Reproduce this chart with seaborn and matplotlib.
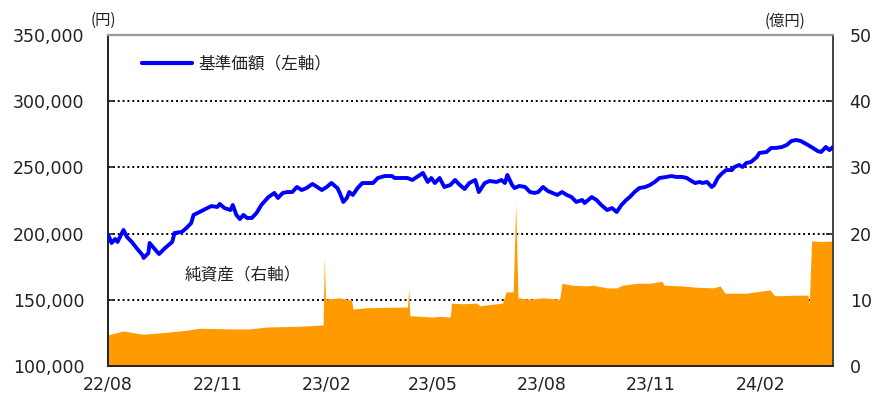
import numpy as np
import pandas as pd
import matplotlib
matplotlib.use("Agg")
import matplotlib.pyplot as plt
import matplotlib.dates as mdates
from matplotlib.lines import Line2D
from matplotlib.ticker import FuncFormatter
import seaborn as sns

# ---------------- data ----------------
start_date = "2022-08-01"
end_day = 610

# 基準価額 (円) : days since start_date, value
nav_day = [0, 1, 3, 6, 8, 13, 16, 20, 24, 29, 30, 34, 35, 40, 43, 48, 54, 56, 62, 66,
           70, 72, 77, 82, 87, 92, 94, 98, 103, 105, 108, 111, 114, 117, 121, 125, 129, 135, 140, 143,
           147, 151, 155, 159, 163, 167, 172, 176, 180, 184, 188, 193, 195, 198, 201, 203, 206, 210, 214, 219,
           223, 227, 233, 239, 241, 247, 252, 256, 260, 265, 269, 272, 275, 279, 283, 288, 292, 296, 300, 304,
           309, 312, 317, 321, 327, 331, 334, 336, 340, 342, 346, 351, 355, 359, 362, 366, 370, 374, 378, 382,
           386, 390, 394, 399, 401, 407, 411, 415, 420, 424, 428, 432, 436, 439, 443, 447, 452, 456, 460, 464,
           470, 474, 478, 483, 487, 491, 494, 498, 500, 504, 508, 510, 513, 516, 520, 525, 527, 531, 534, 537,
           541, 546, 548, 554, 558, 562, 567, 571, 575, 579, 583, 589, 593, 597, 600, 604, 607, 610]
nav_value = [199000, 197400, 192900, 195900, 193700, 202700, 197400, 193700, 189100, 183800,
             181600, 185300, 192900, 187600, 184600, 189100, 193700, 200500, 201200, 204200,
             208000, 214100, 216300, 218600, 220800, 220100, 222400, 219300, 217800, 221600,
             214100, 211000, 214100, 211800, 211800, 215600, 221600, 227600, 230700, 226900,
             230700, 231400, 231400, 235200, 232900, 234400, 237500, 235200, 232900, 235200,
             238200, 234400, 230700, 223900, 226900, 231400, 229200, 234400, 238200, 238200,
             238200, 242000, 243500, 243500, 242000, 242000, 242000, 240500, 242800, 245800,
             239000, 242000, 238200, 242000, 235200, 236700, 240500, 236700, 233700, 238200,
             240500, 231400, 238200, 239700, 239000, 240500, 238200, 244300, 236700, 234400,
             236000, 235200, 231400, 230700, 231400, 235200, 232200, 230700, 229200, 231400,
             229200, 227600, 223900, 225400, 223100, 227600, 225400, 221600, 217800, 219300,
             216300, 221600, 225400, 227600, 231400, 234400, 235200, 236700, 239000, 242000,
             242800, 243500, 242800, 242800, 242000, 239700, 238200, 239000, 238200, 239000,
             235200, 236700, 242000, 245000, 248000, 248000, 250300, 251800, 250300, 253300,
             254100, 257900, 260900, 261600, 264700, 264700, 265400, 266900, 269900, 270700,
             269900, 266900, 264700, 262400, 261600, 265400, 263100, 265400]

# 純資産 (億円) : days since start_date, value
asset_day = [0, 13, 29, 44, 66, 77, 105, 119, 134, 161, 181, 182, 183, 195, 203, 205, 206, 218, 251, 252,
             253, 254, 273, 279, 288, 289, 298, 310, 313, 332, 335, 341, 343, 345, 355, 366, 380, 382, 391, 403,
             408, 420, 428, 433, 445, 456, 466, 468, 483, 495, 509, 515, 519, 537, 557, 561, 579, 589, 590, 592,
             600, 610]
asset_value = [4.7, 5.3, 4.8, 5.0, 5.4, 5.7, 5.6, 5.6, 5.9, 6.0, 6.2, 16.5, 10.1, 10.3, 10.0, 10.0, 8.6, 8.8, 8.9, 8.9,
               11.6, 7.6, 7.4, 7.5, 7.4, 9.5, 9.4, 9.5, 9.1, 9.5, 11.2, 11.2, 24.5, 10.3, 10.1, 10.3, 10.1, 12.5, 12.2, 12.1,
               12.2, 11.8, 11.8, 12.2, 12.5, 12.5, 12.8, 12.2, 12.1, 11.9, 11.8, 12.1, 11.0, 11.0, 11.5, 10.6, 10.7, 10.7, 9.2, 18.9,
               18.8, 18.9]

left_ticks = [100000, 150000, 200000, 250000, 300000, 350000]
right_ticks = [0, 10, 20, 30, 40, 50]
nav_label = "基準価額（左軸）"
asset_label = "純資産（右軸）"
left_unit = "(円)"
right_unit = "(億円)"

# ---------------- styling ----------------
sns.set_style("white")
plt.rcParams['font.family'] = ['DejaVu Sans', 'Noto Sans CJK JP']
CJK = ['Noto Sans CJK JP', 'DejaVu Sans']
BLUE = "#0000FF"
ORANGE = "#FF9B00"
TXT = "#222222"

t0 = pd.Timestamp(start_date)
nav_dates = t0 + pd.to_timedelta(nav_day, unit="D")
asset_dates = t0 + pd.to_timedelta(asset_day, unit="D")
nav_df = pd.DataFrame({"date": nav_dates, "nav": nav_value})

fig = plt.figure(figsize=(8.73, 4.04), dpi=100)
fig.patch.set_facecolor("white")
ax = fig.add_axes([108/873, 38/404, 725/873, 331/404])
ax2 = ax.twinx()
ax.set_zorder(2)
ax.patch.set_visible(False)
ax2.set_zorder(1)

# grid lines (below the area)
for v in right_ticks[1:-1]:
    ax2.axhline(v, color="black", lw=1.4, ls=(0, (1, 1.5)), zorder=0.5)

# net assets area (right axis)
ax2.fill_between(asset_dates, asset_value, 0, color=ORANGE, lw=0, zorder=2)

# NAV line (left axis)
sns.lineplot(data=nav_df, x="date", y="nav", ax=ax, color=BLUE, lw=2.8, zorder=3)

ax.set_xlim(t0, t0 + pd.Timedelta(days=end_day))
ax.set_ylim(left_ticks[0], left_ticks[-1])
ax2.set_ylim(right_ticks[0], right_ticks[-1])
ax.set_yticks(left_ticks)
ax2.set_yticks(right_ticks)
ax.yaxis.set_major_formatter(FuncFormatter(lambda v, p: f"{int(v):,}"))
ax.xaxis.set_major_locator(mdates.MonthLocator(bymonth=[2, 5, 8, 11]))
ax.xaxis.set_major_formatter(mdates.DateFormatter("%y/%m"))
ax.set_xlabel("")
ax.set_ylabel("")
ax2.set_ylabel("")

ax.tick_params(axis="y", direction="in", length=5, width=1.2, pad=17, labelsize=12.5, labelcolor=TXT, color="#222")
ax.tick_params(axis="x", direction="in", length=7, width=1.2, pad=7, labelsize=12.5, labelcolor=TXT, color="#222")
ax2.tick_params(axis="y", direction="in", length=5, width=1.2, pad=12, labelsize=12.5, labelcolor=TXT, color="#222")

for s in ["left", "bottom"]:
    ax.spines[s].set_color("#222")
    ax.spines[s].set_linewidth(1.4)
ax.spines["right"].set_visible(False)
ax.spines["top"].set_color("#999999")
ax.spines["top"].set_linewidth(1.6)
ax.spines["top"].set_linestyle((0, (2, 1)))
for s in ["left", "bottom", "top"]:
    ax2.spines[s].set_visible(False)
ax2.spines["right"].set_color("#444")
ax2.spines["right"].set_linewidth(1.4)

# legend and labels
handle = Line2D([], [], color=BLUE, lw=3)
leg = ax.legend([handle], [nav_label], loc="center left", bbox_to_anchor=(0.047, 0.912),
                frameon=False, borderpad=0, borderaxespad=0, handlelength=3.0, handletextpad=0.4,
                prop={"family": CJK, "size": 12})
for t in leg.get_texts():
    t.set_color(TXT)
ax.text(0.106, 0.275, asset_label, transform=ax.transAxes, ha="left", va="center",
        fontsize=12, family=CJK, color=TXT)
fig.text(103/873, 1 - 20/404, left_unit, ha="center", va="center", fontsize=11, family=CJK, color=TXT)
fig.text(785/873, 1 - 21/404, right_unit, ha="center", va="center", fontsize=11, family=CJK, color=TXT)

fig.savefig("out.png", dpi=100, facecolor="white")
